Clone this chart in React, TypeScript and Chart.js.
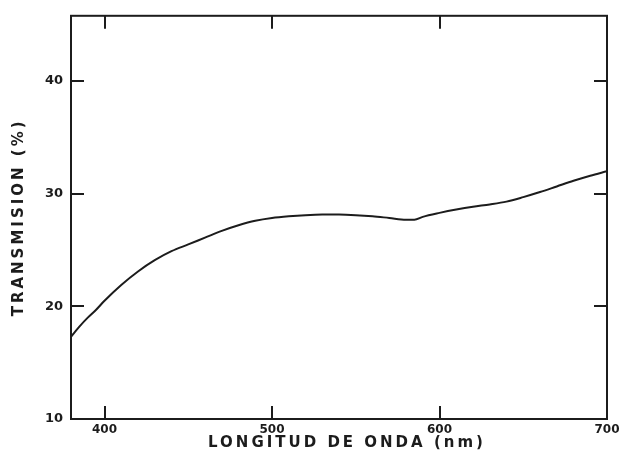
import React, { useEffect, useRef } from "react";
import { Chart, registerables } from "chart.js";

Chart.register(...registerables);

// Wavelength (nm)
const wavelengths = [
  380, 385, 390, 395, 400, 410, 420, 430, 440, 450, 460, 470, 480, 490, 500,
  510, 520, 530, 540, 550, 560, 570, 580, 585, 590, 600, 610, 620, 630, 640,
  650, 660, 670, 680, 690, 700,
];
// Transmission (%)
const transmission = [
  17.3, 18.2, 19.0, 19.7, 20.5, 21.9, 23.1, 24.1, 24.9, 25.5, 26.1, 26.7, 27.2,
  27.6, 27.85, 28.0, 28.1, 28.15, 28.15, 28.1, 28.0, 27.85, 27.7, 27.7, 27.95,
  28.3, 28.6, 28.85, 29.05, 29.3, 29.7, 30.15, 30.65, 31.15, 31.6, 32.0,
];
const xTickValues = [400, 500, 600, 700];
const yTickValues = [10, 20, 30, 40];
const xTitle = "LONGITUD DE ONDA (nm)";
const yTitle = "TRANSMISION (%)";

const INK = "#1c1c1c";
const FONT = "'DejaVu Sans', sans-serif";

const framePlugin = {
  id: "frameTicks",
  beforeDraw(chart: any) {
    const spacing: Record<string, string> = { x: "3px", y: "3px" };
    const shift: Record<string, number> = { x: 8, y: 0 };
    for (const id of ["x", "y"]) {
      const s: any = chart.scales[id];
      if (s && !s._lsWrapped) {
        const orig = s.drawTitle;
        s.drawTitle = function (...args: any[]) {
          const c = this.ctx;
          c.save();
          c.letterSpacing = spacing[id];
          c.translate(shift[id], 0);
          orig.apply(this, args);
          c.restore();
        };
        s._lsWrapped = true;
      }
    }
  },
  afterDatasetsDraw(chart: any) {
    const { ctx, chartArea, scales } = chart;
    const { left, right, top, bottom } = chartArea;
    const x = scales.x;
    const y = scales.y;
    const len = 13;
    ctx.save();
    ctx.strokeStyle = INK;
    ctx.lineWidth = 2;
    ctx.strokeRect(left, top, right - left, bottom - top);
    ctx.beginPath();
    x.ticks.forEach((t: any) => {
      if (t.value <= x.min || t.value >= x.max) return;
      const px = Math.round(x.getPixelForValue(t.value));
      ctx.moveTo(px, bottom);
      ctx.lineTo(px, bottom - len);
      ctx.moveTo(px, top);
      ctx.lineTo(px, top + len);
    });
    y.ticks.forEach((t: any) => {
      if (t.value <= y.min || t.value >= y.max) return;
      const py = Math.round(y.getPixelForValue(t.value));
      ctx.moveTo(left, py);
      ctx.lineTo(left + len, py);
      ctx.moveTo(right, py);
      ctx.lineTo(right - len, py);
    });
    ctx.stroke();
    ctx.restore();
  },
};

export default function App() {
  const canvasRef = useRef<HTMLCanvasElement | null>(null);

  useEffect(() => {
    const canvas = canvasRef.current;
    if (!canvas) return;
    const points = wavelengths.map((w, i) => ({ x: w, y: transmission[i] }));
    const chart = new Chart(canvas, {
      type: "line",
      data: {
        datasets: [
          {
            data: points,
            borderColor: INK,
            borderWidth: 2,
            pointRadius: 0,
            fill: false,
            cubicInterpolationMode: "monotone",
          },
        ],
      },
      options: {
        animation: false,
        responsive: false,
        maintainAspectRatio: false,
        layout: { padding: { top: 15, right: 15, left: 0, bottom: 0 } },
        plugins: {
          legend: { display: false },
          tooltip: { enabled: false },
        },
        scales: {
          x: {
            type: "linear",
            min: 380,
            max: 700,
            afterBuildTicks: (s: any) => {
              s.ticks = xTickValues.map((v) => ({ value: v }));
            },
            afterFit: (s: any) => {
              s.height = 40;
              s.paddingLeft = 0;
              s.paddingRight = 0;
            },
            grid: { display: false, drawTicks: false },
            border: { display: false },
            ticks: {
              autoSkip: false,
              maxRotation: 0,
              padding: 4,
              color: INK,
              font: { family: FONT, size: 12, weight: "bold" },
            },
            title: {
              display: true,
              text: xTitle,
              color: INK,
              font: { family: FONT, size: 15, weight: "bold" },
              padding: { top: 0, bottom: 7 },
            },
          },
          y: {
            type: "linear",
            min: 10,
            max: 45.8,
            afterBuildTicks: (s: any) => {
              s.ticks = yTickValues.map((v) => ({ value: v }));
            },
            afterFit: (s: any) => {
              s.width = 71;
            },
            grid: { display: false, drawTicks: false },
            border: { display: false },
            ticks: {
              autoSkip: false,
              padding: 8,
              color: INK,
              font: { family: FONT, size: 13, weight: "bold" },
            },
            title: {
              display: true,
              text: yTitle,
              color: INK,
              font: { family: FONT, size: 15, weight: "bold" },
              padding: { top: 10, bottom: 0 },
            },
          },
        },
      },
      plugins: [framePlugin],
    });
    return () => chart.destroy();
  }, []);

  return (
    <div style={{ position: "fixed", left: 0, top: 0, width: 622, height: 459, background: "#fff" }}>
      <canvas ref={canvasRef} width={622} height={459} style={{ display: "block" }} />
    </div>
  );
}
